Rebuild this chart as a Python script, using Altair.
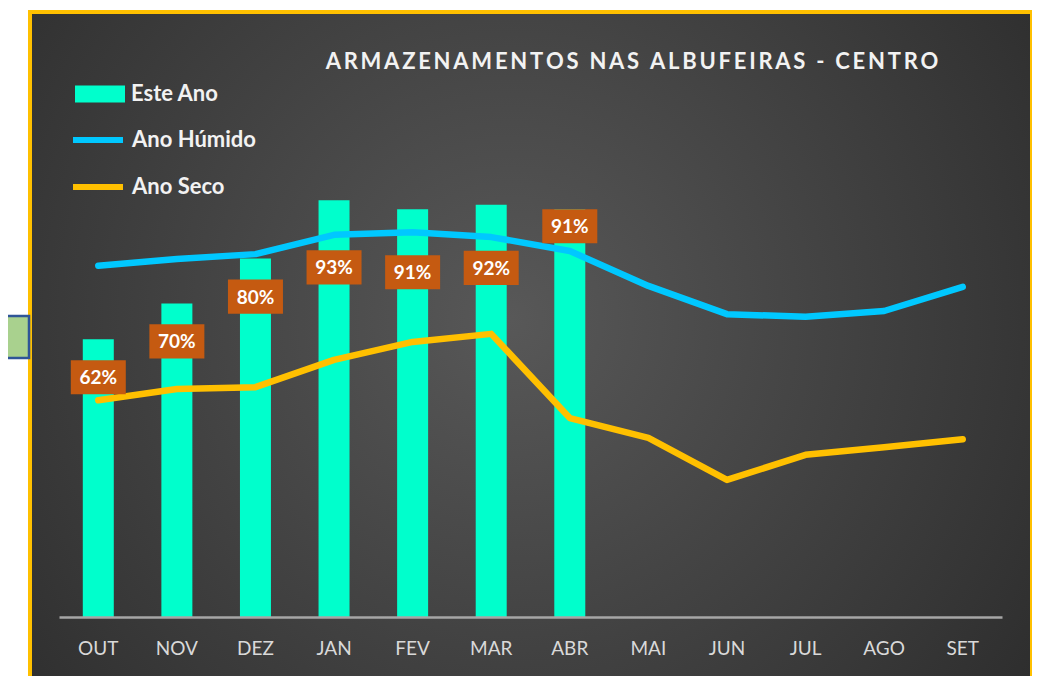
import altair as alt
import pandas as pd

months = ["OUT", "NOV", "DEZ", "JAN", "FEV", "MAR", "ABR", "MAI", "JUN", "JUL", "AGO", "SET"]
este_ano = [62, 70, 80, 93, 91, 92, 91]
ano_humido = [78.4, 79.9, 81.0, 85.3, 85.9, 84.8, 81.7, 73.9, 67.6, 67.0, 68.3, 73.7]
ano_seco = [48.4, 50.9, 51.3, 57.4, 61.4, 63.2, 44.4, 40.0, 30.6, 36.2, 37.9, 39.7]
series_names = ["Este Ano", "Ano Húmido", "Ano Seco"]
title_text = "ARMAZENAMENTOS NAS ALBUFEIRAS - CENTRO"

W, H = 1002, 664
FONT = "Lato"

bars_df = pd.DataFrame({"m": months[:len(este_ano)], "v": este_ano, "serie": series_names[0]})
lines_df = pd.concat([
    pd.DataFrame({"m": months, "v": ano_humido, "serie": series_names[1], "o": range(12)}),
    pd.DataFrame({"m": months, "v": ano_seco, "serie": series_names[2], "o": range(12)}),
])

xscale = alt.Scale(domain=months, range=[29, 972], paddingInner=0, paddingOuter=0)
yscale = alt.Scale(domain=[0, 100], range=[605, 157])

one = alt.Data(values=[{"a": 1}])

bg = alt.Chart(one).mark_rect(
    fill=alt.RadialGradient(
        gradient="radial", x1=0.48, y1=0.47, r1=0, x2=0.48, y2=0.47, r2=0.72,
        stops=[alt.GradientStop(offset=0, color="#585858"),
               alt.GradientStop(offset=1, color="#282828")]),
    stroke="#FFC000", strokeWidth=4,
).encode(x=alt.value(0), x2=alt.value(W), y=alt.value(0), y2=alt.value(H + 10))

side_box = alt.Chart(one).mark_rect(
    fill="#A9D18E", stroke="#2F5597", strokeWidth=2.5
).encode(x=alt.value(-32), x2=alt.value(-1), y=alt.value(304), y2=alt.value(346))

base_x = alt.X("m:N", scale=xscale, sort=months,
               axis=alt.Axis(title=None, offset=-59, ticks=False, domainColor="#A6A6A6",
                             domainWidth=2.5, labelColor="#D9D9D9", labelFontSize=19,
                             labelFont=FONT, labelPadding=22, labelAngle=0, grid=False,
                             zindex=1))

LEG = dict(title=None, orient="none", labelFontSize=22, labelFont=FONT,
           labelFontWeight="bold", labelColor="#F2F2F2", labelOffset=6)

bars = alt.Chart(bars_df).mark_bar(size=31).encode(
    x=base_x,
    y=alt.Y("v:Q", scale=yscale, axis=None),
    fill=alt.Fill("serie:N", scale=alt.Scale(domain=[series_names[0]], range=["#00FFCC"]),
                  legend=alt.Legend(legendX=45, legendY=57,
                                    symbolType="M-1,-0.34H1V0.34H-1Z", symbolSize=2500,
                                    symbolStrokeWidth=0, **LEG)),
)

lines = alt.Chart(lines_df).mark_line(strokeWidth=6.5, strokeCap="round", strokeJoin="round").encode(
    x=alt.X("m:N", scale=xscale, sort=months),
    y=alt.Y("v:Q", scale=yscale),
    order="o:Q",
    stroke=alt.Stroke("serie:N", scale=alt.Scale(domain=series_names[1:], range=["#00C8FF", "#FFC000"]),
                      legend=alt.Legend(legendX=40, legendY=100,
                                        symbolType="stroke", symbolSize=2500, symbolStrokeWidth=6,
                                        rowPadding=7, **LEG)),
)

off_expr = ("datum.m=='JAN'?67:(datum.m=='FEV'||datum.m=='MAR')?63:datum.m=='ABR'?17:38")
lab_base = alt.Chart(bars_df).transform_calculate(
    off=off_expr
).transform_calculate(
    ly="datum.v - datum.off/4.48", t="datum.v + '%'"
)

label_box = lab_base.mark_point(
    shape="M-1,-0.62H1V0.62H-1Z", size=55 * 55, filled=True, opacity=1, color="#C55A11"
).encode(x=alt.X("m:N", scale=xscale, sort=months), y=alt.Y("ly:Q", scale=yscale))

label_text = lab_base.mark_text(
    font=FONT, fontSize=19, fontWeight="bold", color="#FFFFFF", baseline="middle", dy=1
).encode(
    x=alt.X("m:N", scale=xscale, sort=months), y=alt.Y("ly:Q", scale=yscale),
    text="t:N",
)

title = alt.Chart(one).mark_text(
    text="\u2009".join(title_text), font=FONT, fontSize=22, fontWeight="bold", color="#F2F2F2",
    align="center", baseline="middle"
).encode(x=alt.value(602), y=alt.value(50))

chart = alt.layer(bg, side_box, bars, lines, label_box, label_text, title).properties(
    width=W, height=H, padding={"left": 22, "top": 4, "right": 0, "bottom": 0},
    autosize=alt.AutoSizeParams(type="none"), background="#FFFFFF",
).configure_view(stroke=None)

chart.save("out.html", embed_options={"renderer": "svg", "actions": False})
